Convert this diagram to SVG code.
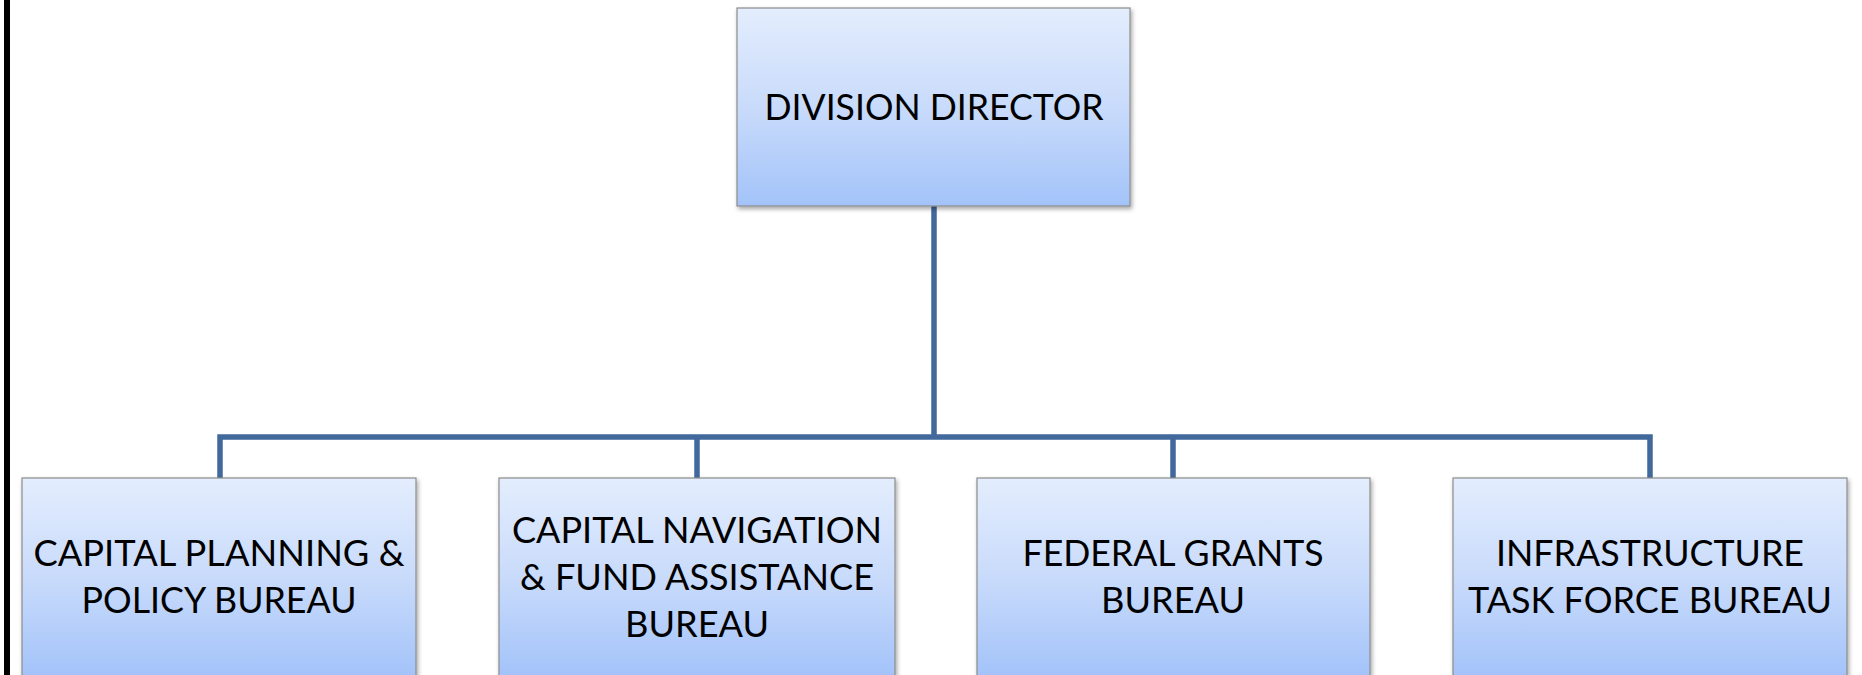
<svg xmlns="http://www.w3.org/2000/svg" width="1862" height="675" viewBox="0 0 1862 675">
  <style>
    .box { fill: url(#boxGrad); stroke: #8C8C8C; stroke-width: 1.2; filter: url(#shadow); }
    .lbl { font-family: Lato, "Open Sans", "Noto Sans", sans-serif; font-size: 37px; fill: #000000; text-anchor: middle; }
    .conn { fill: none; stroke: #41699C; stroke-width: 5.5; stroke-linejoin: miter; stroke-linecap: butt; }
  </style>
  <defs>
    <linearGradient id="boxGrad" x1="0" y1="0" x2="0" y2="1">
      <stop offset="0" stop-color="#E3EDFD"/>
      <stop offset="0.5" stop-color="#C9DBFB"/>
      <stop offset="1" stop-color="#A3C3F9"/>
    </linearGradient>
    <filter id="shadow" x="-5%" y="-5%" width="115%" height="115%">
      <feDropShadow dx="1.5" dy="2.5" stdDeviation="2" flood-color="#000000" flood-opacity="0.35"/>
    </filter>
  </defs>
  <rect x="0" y="0" width="1862" height="675" fill="#FFFFFF"/>
  <rect x="4" y="0" width="6" height="675" fill="#000000"/>

  <g id="connectors">
    <path class="conn" d="M934,206 V437"/>
    <path class="conn" d="M220,478 V437 H1650 V478"/>
    <path class="conn" d="M697,437 V478"/>
    <path class="conn" d="M1173,437 V478"/>
  </g>

  <g id="node-director">
    <rect class="box" x="737" y="8" width="393" height="198"/>
    <text class="lbl" x="934" y="120" textLength="339" lengthAdjust="spacingAndGlyphs">DIVISION DIRECTOR</text>
  </g>

  <g id="node-capital-planning">
    <rect class="box" x="22" y="478" width="394" height="198"/>
    <text class="lbl" x="219" y="566" textLength="371" lengthAdjust="spacingAndGlyphs">CAPITAL PLANNING &amp;</text>
    <text class="lbl" x="219" y="613" textLength="275" lengthAdjust="spacingAndGlyphs">POLICY BUREAU</text>
  </g>

  <g id="node-capital-navigation">
    <rect class="box" x="499" y="478" width="396" height="198"/>
    <text class="lbl" x="697" y="543" textLength="370" lengthAdjust="spacingAndGlyphs">CAPITAL NAVIGATION</text>
    <text class="lbl" x="697" y="590" textLength="354" lengthAdjust="spacingAndGlyphs">&amp; FUND ASSISTANCE</text>
    <text class="lbl" x="697" y="637" textLength="144" lengthAdjust="spacingAndGlyphs">BUREAU</text>
  </g>

  <g id="node-federal-grants">
    <rect class="box" x="977" y="478" width="393" height="198"/>
    <text class="lbl" x="1173" y="566" textLength="301" lengthAdjust="spacingAndGlyphs">FEDERAL GRANTS</text>
    <text class="lbl" x="1173" y="613" textLength="144" lengthAdjust="spacingAndGlyphs">BUREAU</text>
  </g>

  <g id="node-infrastructure">
    <rect class="box" x="1453" y="478" width="394" height="198"/>
    <text class="lbl" x="1650" y="566" textLength="308" lengthAdjust="spacingAndGlyphs">INFRASTRUCTURE</text>
    <text class="lbl" x="1650" y="613" textLength="364" lengthAdjust="spacingAndGlyphs">TASK FORCE BUREAU</text>
  </g>
</svg>
